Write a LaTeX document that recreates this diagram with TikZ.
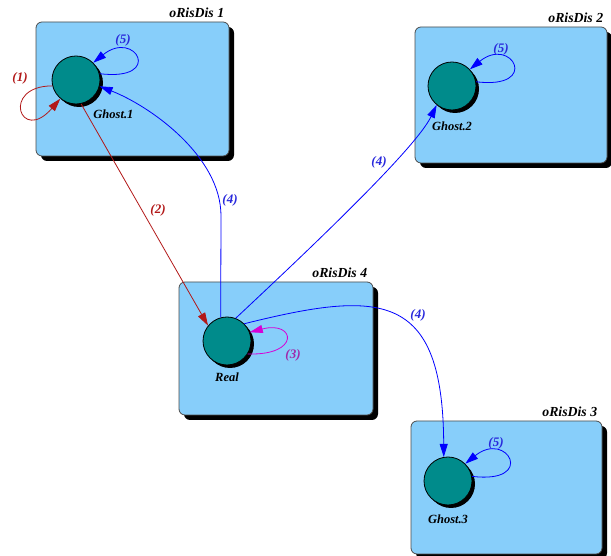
\documentclass[tikz,border=0pt]{standalone}
\usepackage{fontspec}
\setmainfont{Liberation Serif}
\usepackage{tikz}
\usetikzlibrary{
  positioning,
  arrows.meta,
  shadows
}
\definecolor{boxblue}{RGB}{135,206,250}
\definecolor{procteal}{RGB}{0,139,139}
\definecolor{edgered}{RGB}{178,24,24}
\definecolor{edgemag}{RGB}{214,0,214}
\definecolor{lblmag}{RGB}{160,40,170}
\definecolor{lblblue}{RGB}{40,40,220}
\tikzstyle{disbox}=[draw=black!70, fill=boxblue, rounded corners=6pt, line width=0.8pt,
  drop shadow={shadow xshift=5pt, shadow yshift=-5pt, fill=black, opacity=1}]
\tikzstyle{proc}=[circle, draw, fill=procteal, minimum size=48pt, inner sep=0pt, line width=0.8pt,
  drop shadow={shadow xshift=3pt, shadow yshift=-3pt, fill=black, opacity=1}]
\tikzstyle{txt}=[font=\bfseries\itshape\fontsize{13}{15}\selectfont, inner sep=1pt]
\tikzstyle{boxtxt}=[font=\bfseries\itshape\fontsize{13.8}{16}\selectfont, inner sep=1pt]
\tikzstyle{proctxt}=[font=\bfseries\itshape\fontsize{12.5}{15}\selectfont, inner sep=1pt]
\tikzstyle{redarrow}=[-{Triangle[length=13pt,width=8pt]}, edgered, line width=0.8pt]
\tikzstyle{bluearrow}=[-{Triangle[length=13pt,width=8pt]}, blue, line width=0.8pt]
\tikzstyle{magarrow}=[-{Triangle[length=13pt,width=8pt]}, edgemag, line width=0.8pt]

\begin{document}
\begin{tikzpicture}[x=1pt, y=1pt]
    \useasboundingbox (0,0) rectangle (611,556);

    % 分散領域の箱
    \node[disbox, minimum width=193pt, minimum height=134pt] (dis1) at (132.5,467) {};
    \node[disbox, minimum width=192pt, minimum height=136pt] (dis2) at (511,461) {};
    \node[disbox, minimum width=194pt, minimum height=133pt] (dis4) at (276,207.5) {};
    \node[disbox, minimum width=191pt, minimum height=133pt] (dis3) at (506.5,68.5) {};

    % 箱の名前
    \node[boxtxt, above left=3pt and 4pt of dis1.north east] (dis1t) {oRisDis 1};
    \node[boxtxt, above left=3pt and 3pt of dis2.north east] (dis2t) {oRisDis 2};
    \node[boxtxt, above left=3pt and 5pt of dis4.north east] (dis4t) {oRisDis 4};
    \node[boxtxt, above left=3pt and 4pt of dis3.north east] (dis3t) {oRisDis 3};

    % プロセス
    \node[proc] (g1) at (76,476) {};
    \node[proc] (g2) at (452,470) {};
    \node[proc] (real) at (227,215) {};
    \node[proc] (g3) at (448,75) {};

    % プロセスの名前
    \node[proctxt, below right=11pt and -1pt of g1.south east] (g1n) {Ghost.1};
    \node[proctxt, below=10pt of g2] (g2n) {Ghost.2};
    \node[proctxt, below=6pt of real] (realn) {Real};
    \node[proctxt, below=8pt of g3] (g3n) {Ghost.3};

    % (1) 自己ループ
    \draw[redarrow] (g1.194) .. controls +(-52,0) and +(-40,-46) .. (g1.230);

    % (2) Ghost.1 から Real へ
    \draw[redarrow] (g1.282) -- (real.141);

    % (3) 自己ループ
    \draw[magarrow] (real.328) .. controls +(53,-2) and +(46,12) .. (real.21);

    % (4) Real から各 Ghost へ
    \coordinate (bend1) at (221,340);
    \draw[bluearrow] (real.105) -- (bend1) .. controls (221,400) and (150,450) .. (g1.345);
    \draw[bluearrow] (real.69) .. controls (300,298) and (415,406) .. (g2.231);
    \draw[bluearrow] (real.45) .. controls (380,266) and (443,266) .. (g3.100);

    % (5) 自己ループ
    \draw[bluearrow] (g1.15) .. controls +(65,-8) and +(42,34) .. (g1.45);
    \draw[bluearrow] (g2.10) .. controls +(65,-8) and +(42,34) .. (g2.43);
    \draw[bluearrow] (g3.11) .. controls +(65,-8) and +(42,34) .. (g3.45);

    % 矢印のラベル
    \node[txt, edgered] (l1) at (20,478) {(1)};
    \node[txt, edgered] (l2) at (158,346) {(2)};
    \node[txt, lblmag] (l3) at (293,201) {(3)};
    \node[txt, lblblue] (l4a) at (230,356) {(4)};
    \node[txt, lblblue] (l4b) at (379,394) {(4)};
    \node[txt, lblblue] (l4c) at (418,241) {(4)};
    \node[txt, lblblue] (l5a) at (123,516) {(5)};
    \node[txt, lblblue] (l5b) at (501,507) {(5)};
    \node[txt, lblblue] (l5c) at (496,113) {(5)};
\end{tikzpicture}
\end{document}
